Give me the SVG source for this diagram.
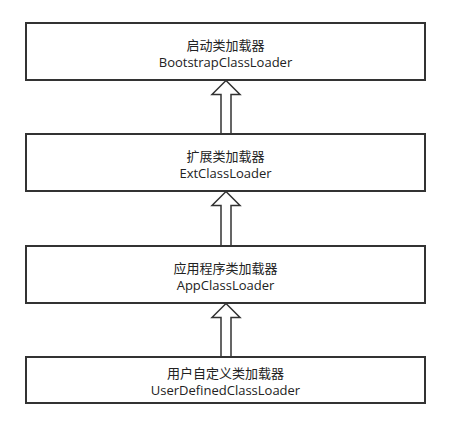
<svg xmlns="http://www.w3.org/2000/svg" width="454" height="424" viewBox="0 0 454 424">
<style>
.box{fill:#fff;stroke:#333;stroke-width:2}
.arr{fill:#fff;stroke:#333;stroke-width:1.5;stroke-linejoin:miter}
text{font-family:"Open Sans","Noto Sans CJK SC",sans-serif;font-size:13px;fill:#222;text-anchor:middle}
</style>
<rect width="454" height="424" fill="#fff"/>
<g id="connectors">
<polygon class="arr" points="226,80.5 240,94.5 231,94.5 231,134 221,134 221,94.5 212,94.5"/>
<polygon class="arr" points="226,191.5 240,205.5 231,205.5 231,246 221,246 221,205.5 212,205.5"/>
<polygon class="arr" points="226,303.5 240,317.5 231,317.5 231,357 221,357 221,317.5 212,317.5"/>
</g>
<g id="bootstrap">
<rect class="box" x="26" y="23" width="399" height="57"/>
<text x="225.5" y="50">启动类加载器</text>
<text x="225.5" y="67">BootstrapClassLoader</text>
</g>
<g id="ext">
<rect class="box" x="26" y="134" width="399" height="57"/>
<text x="225.5" y="161">扩展类加载器</text>
<text x="225.5" y="178">ExtClassLoader</text>
</g>
<g id="app">
<rect class="box" x="26" y="246" width="399" height="57"/>
<text x="225.5" y="273">应用程序类加载器</text>
<text x="225.5" y="290">AppClassLoader</text>
</g>
<g id="user">
<rect class="box" x="26" y="357" width="399" height="46"/>
<text x="225.5" y="377.5">用户自定义类加载器</text>
<text x="225.5" y="394.5">UserDefinedClassLoader</text>
</g>
</svg>
